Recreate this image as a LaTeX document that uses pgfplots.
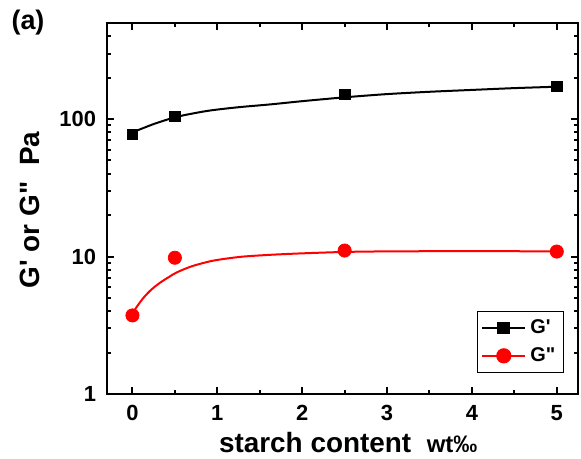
\documentclass[border=0pt]{standalone}
\usepackage{fontspec}
\setmainfont{Liberation Sans}
\usepackage{pgfplots}
\pgfplotsset{compat=1.18}

\begin{document}
\begin{tikzpicture}
\useasboundingbox (-53.5bp,-32.5bp) rectangle (237bp,197bp);
\begin{axis}[
  at={(0,0)}, anchor=south west,
  scale only axis, width=235.5bp, height=185.5bp,
  ymode=log, xmin=-0.3, xmax=5.25, ymin=1, ymax=500,
  xtick={0,1,2,3,4,5}, xticklabels={0,1,2,3,4,5},
  minor xtick={0.5,1.5,2.5,3.5,4.5},
  ytick={1,10,100}, yticklabels={1,10,100},
  minor ytick={2,3,4,5,6,7,8,9,20,30,40,50,60,70,80,90,200,300,400},
  axis line style={line width=1.3bp},
  major tick length=3.5bp, minor tick length=2bp,
  every tick/.style={black, line width=1bp},
  tick label style={font=\bfseries\fontsize{11}{12}\selectfont},
  xticklabel style={yshift=-2bp},
  yticklabel style={xshift=-2bp},
  xlabel={starch content\ \ {\fontsize{12}{13}\selectfont wt‰}},
  xlabel style={at={(axis description cs:0.512,-0.13)}, anchor=center,
    font=\bfseries\fontsize{14}{16}\selectfont},
  ylabel={G\textquotesingle\ or G\textquotedbl\ \ Pa},
  ylabel style={at={(axis description cs:-0.1635,0.496)}, anchor=center,
    rotate=0, font=\bfseries\fontsize{14}{16}\selectfont},
  legend style={at={(rel axis cs:0.970,0.057)}, anchor=south east,
    draw=black, line width=0.6bp, font=\bfseries\fontsize{10}{11}\selectfont,
    inner sep=2bp, row sep=1.5bp},
  legend cell align=left,
  legend image code/.code={
    \draw[mark repeat=2, mark phase=2, #1] plot coordinates {(0cm,0cm) (0.38cm,0cm) (0.76cm,0cm)};},
]
% fitted curves
\addplot[black, line width=1bp, smooth, forget plot] coordinates {
  (0,80) (0.25,92) (0.5,103) (0.7,109.5) (0.92,115.6) (1.25,122) (1.63,128)
  (2,135) (2.5,144) (3,152) (3.5,158) (4,163) (4.5,168) (5,172)};
\addplot[red, line width=1bp, smooth, forget plot] coordinates {
  (-0.02,3.66) (0.05,4.3) (0.137,5.07) (0.23,5.8) (0.333,6.5) (0.43,7.1)
  (0.526,7.69) (0.7,8.5) (0.92,9.25) (1.1,9.65) (1.31,10.0) (1.63,10.3)
  (2,10.55) (2.5,10.8) (3,10.9) (4,10.95) (5,10.9)};
% measured points
\addplot[black, only marks, mark=square*, mark size=2.7bp, forget plot] coordinates {
  (0,77.4) (0.5,104.6) (2.5,151) (5,172.7)};
\addplot[red, only marks, mark=*, mark size=3.3bp, forget plot] coordinates {
  (0,3.73) (0.5,9.8) (2.5,11.06) (5,10.87)};
\addlegendimage{black, line width=1bp, mark=square*, mark size=2.7bp}
\addlegendentry{G\textquotesingle}
\addlegendimage{red, line width=1bp, mark=*, mark size=3.3bp}
\addlegendentry{G\textquotedbl}
\end{axis}
\node[font=\bfseries\fontsize{13.5}{15}\selectfont] at (-39.5bp,185.5bp) {(a)};
\end{tikzpicture}
\end{document}
